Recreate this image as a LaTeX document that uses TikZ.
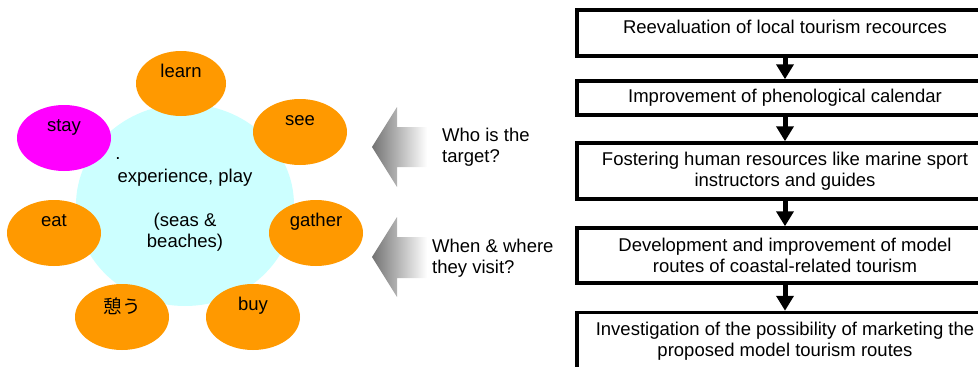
\documentclass[tikz,border=0pt]{standalone}
\usepackage{fontspec}
\setmainfont{Liberation Sans}
\newfontfamily\jpfont{Noto Sans CJK JP}
\usetikzlibrary{shapes.geometric,arrows.meta,positioning}
\definecolor{spot}{HTML}{FF9900}
\definecolor{staycol}{HTML}{FF00FF}
\definecolor{corecol}{HTML}{CCFFFF}

\begin{document}
\begin{tikzpicture}[x=1pt, y=-1pt,
    font=\fontsize{18.5}{21}\selectfont,
    act/.style={ellipse, fill=spot, minimum width=94pt, minimum height=66pt, inner sep=0pt, text height=13pt, text depth=26pt},
    stepbox/.style={draw, line width=3.5pt, minimum width=416pt, align=center, inner sep=0pt},
    down/.style={line width=5pt, -{Triangle[width=17pt,length=15pt]}},
    hint/.style={anchor=west, align=left, inner sep=0pt},
    pointer/.style={left color=black!55, right color=white}]
    \path[use as bounding box] (0,0) rectangle (978,367);
    \clip (0,0) rectangle (978,367);

    \node (core) [ellipse, fill=corecol, minimum width=218pt, minimum height=202pt] at (185,205) {};
    \node (learn) [act, minimum width=90pt, minimum height=65pt] at (181,83.5) {learn};
    \node (see) [act] at (300,132) {see};
    \node (stay) [act, fill=staycol] at (64,138) {stay};
    \node (eat) [act] at (54,233) {eat};
    \node (gather) [act] at (316,233) {gather};
    \node (rest) [act, text depth=20pt] at (122,317) {\jpfont 憩う};
    \node (buy) [act] at (253,317) {buy};

    \node (dot) at (118,159) {.};
    \node (play) at (185,178) {experience, play};
    \node (beach) [align=center] at (185,232) {(seas \&\\beaches)};

    \shade[pointer] (372,147) -- (397,107) -- (397,127) -- (427,127) -- (427,167) -- (397,167) -- (397,187) -- cycle;
    \shade[pointer] (372,257) -- (397,217) -- (397,237) -- (427,237) -- (427,278) -- (397,278) -- (397,297) -- cycle;
    \node (who) [hint] at (442,147) {Who is the\\target?};
    \node (when) [hint] at (432,258) {When \& where\\they visit?};

    \node (r1) [stepbox, minimum height=46pt, text depth=12pt] at (785,33) {Reevaluation of local tourism recources};
    \node (r2) [stepbox, minimum height=34pt] at (785,98) {Improvement of phenological calendar};
    \node (r3) [stepbox, minimum height=56pt] at (785,171) {Fostering human resources like marine sport\\instructors and guides};
    \node (r4) [stepbox, minimum height=55pt] at (785,255.5) {Development and improvement of model\\routes of coastal-related tourism};
    \node (r5) [stepbox, minimum height=57pt] at (785,341) {Investigation of the possibility of marketing the\\proposed model tourism routes};
    \draw[down] (r1) -- (r2);
    \draw[down] (r2) -- (r3);
    \draw[down] (r3) -- (r4);
    \draw[down] (r4) -- (r5);
\end{tikzpicture}
\end{document}
